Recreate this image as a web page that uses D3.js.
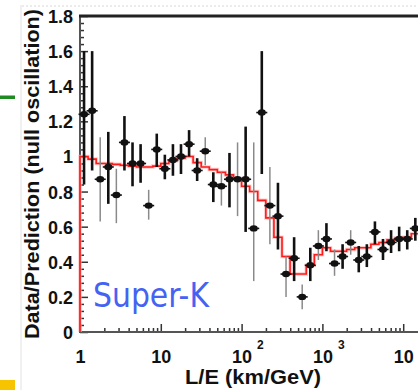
<!DOCTYPE html>
<html><head><meta charset="utf-8">
<script src="https://cdn.jsdelivr.net/npm/d3@7"></script>
<style>html,body{margin:0;padding:0;background:#fff;overflow:hidden}</style>
</head><body>
<svg id="c" width="418" height="390"></svg>
<script>
// ---- data ----
const lOverE = [1.122, 1.413, 1.778, 2.239, 2.818, 3.548, 4.467, 5.623, 7.079, 8.913,
  11.22, 14.13, 17.78, 22.39, 28.18, 35.48, 44.67, 56.23, 70.79, 89.13,
  112.2, 141.3, 177.8, 223.9, 281.8, 354.8, 446.7, 562.3, 707.9, 891.3,
  1122, 1413, 1778, 2239, 2818, 3548, 4467, 5623, 7079, 8913, 11220, 14130];
const ratio = [1.24, 1.26, 0.87, 0.94, 0.78, 1.08, 0.96, 0.96, 0.72, 1.04,
  0.93, 0.98, 1.00, 1.07, 0.92, 1.03, 0.84, 0.83, 0.87, 0.87,
  0.87, 0.59, 1.25, 0.72, 0.66, 0.33, 0.42, 0.20, 0.38, 0.49,
  0.53, 0.39, 0.43, 0.51, 0.41, 0.43, 0.57, 0.47, 0.51, 0.53, 0.53, 0.59];
const ratioHigh = [1.60, 1.60, 1.11, 1.14, 0.93, 1.23, 1.08, 1.07, 0.81, 1.13,
  1.01, 1.07, 1.07, 1.15, 0.99, 1.11, 0.91, 0.91, 1.02, 1.08,
  1.17, 1.08, 1.60, 0.94, 0.85, 0.43, 0.54, 0.27, 0.48, 0.58,
  0.62, 0.47, 0.50, 0.58, 0.49, 0.50, 0.63, 0.53, 0.58, 0.60, 0.58, 0.65];
const ratioLow = [0.84, 0.92, 0.63, 0.73, 0.62, 0.92, 0.83, 0.85, 0.64, 0.94,
  0.87, 0.89, 0.90, 1.00, 0.86, 0.95, 0.74, 0.72, 0.71, 0.66,
  0.57, 0.29, 0.90, 0.50, 0.47, 0.20, 0.29, 0.13, 0.29, 0.41,
  0.46, 0.32, 0.36, 0.44, 0.34, 0.37, 0.50, 0.41, 0.45, 0.46, 0.47, 0.52];
const prediction = [1.00, 0.985, 0.96, 0.96, 0.955, 0.95, 0.945, 0.94, 0.94, 0.945,
  0.96, 0.975, 0.99, 1.00, 0.965, 0.94, 0.925, 0.91, 0.895, 0.875,
  0.83, 0.80, 0.75, 0.65, 0.54, 0.43, 0.33, 0.33, 0.38, 0.44,
  0.48, 0.46, 0.46, 0.47, 0.48, 0.48, 0.50, 0.51, 0.525, 0.535, 0.54, 0.56];
const yTickValues = [0, 0.2, 0.4, 0.6, 0.8, 1, 1.2, 1.4, 1.6, 1.8];
const yTickLabels = ["0", "0.2", "0.4", "0.6", "0.8", "1", "1.2", "1.4", "1.6", "1.8"];
const xTickValues = [1, 10, 100, 1000, 10000];
const xTickBase = ["1", "10", "10", "10", "10"];
const xTickExp = ["", "", "2", "3", "4"];
const yTitle = "Data/Prediction (null oscillation)";
const xTitle = "L/E (km/GeV)";
const experiment = "Super-K";

// ---- drawing ----
const W = 418, H = 390;
const svg = d3.select("#c");
const x = d3.scaleLog().domain([1, 1e4]).range([80, 403.2]);
const y = d3.scaleLinear().domain([0, 1.8]).range([332, 16]);
const font = "'Liberation Sans', Arial, sans-serif";

// slide decorations
svg.append("line").attr("x1", 21).attr("x2", 21).attr("y1", 5).attr("y2", H)
  .attr("stroke", "#e2e2e2").attr("stroke-width", 1);
svg.append("line").attr("x1", 22).attr("x2", W).attr("y1", 6).attr("y2", 6)
  .attr("stroke", "#d8d8d8").attr("stroke-width", 1).attr("stroke-dasharray", "2,2");
svg.append("rect").attr("x", 0).attr("y", 95.5).attr("width", 15).attr("height", 3.5).attr("fill", "#1f8a22");
svg.append("rect").attr("x", 0).attr("y", 380).attr("width", 15).attr("height", 10).attr("fill", "#f6c400");

// minor ticks
const xMax = x.invert(W);
const minorX = [];
[1, 10, 100, 1000, 10000].forEach(d => { for (let k = 2; k <= 9; k++) if (d * k <= xMax) minorX.push(d * k); });
const minorY = d3.range(0, 1.8001, 0.04).filter(v => Math.abs(v / 0.2 - Math.round(v / 0.2)) > 1e-6);

const gxMinor = svg.append("g").attr("transform", "translate(0,332)")
  .call(d3.axisBottom(x).tickValues(minorX).tickSize(-4).tickFormat(""));
const gx = svg.append("g").attr("transform", "translate(0,332)")
  .call(d3.axisBottom(x).tickValues(xTickValues).tickSize(-8).tickPadding(18)
    .tickFormat((d, i) => xTickBase[i]));
const gyMinor = svg.append("g").attr("transform", "translate(80,0)")
  .call(d3.axisLeft(y).tickValues(minorY).tickSize(-4).tickFormat(""));
const gy = svg.append("g").attr("transform", "translate(80,0)")
  .call(d3.axisLeft(y).tickValues(yTickValues).tickSize(-8).tickPadding(7)
    .tickFormat((d, i) => yTickLabels[i]));
[gxMinor, gx, gyMinor, gy].forEach(g => {
  g.select(".domain").remove();
  g.selectAll(".tick line").attr("stroke", "#333").attr("stroke-width", 1.5);
  g.selectAll("text").attr("font-family", font).attr("font-weight", "bold")
    .attr("font-size", 18).attr("fill", "#111");
});
gy.selectAll(".tick text").attr("dy", "0.36em");
// exponents on decade labels
gx.selectAll(".tick").each(function (d, i) {
  if (xTickExp[i]) {
    d3.select(this).append("text").attr("x", 15).attr("y", 17)
      .attr("font-family", font).attr("font-weight", "bold").attr("font-size", 12)
      .attr("fill", "#111").attr("text-anchor", "start").text(xTickExp[i]);
  }
});

// frame lines
svg.append("line").attr("x1", 80).attr("x2", W).attr("y1", 332).attr("y2", 332)
  .attr("stroke", "#555").attr("stroke-width", 2);
svg.append("line").attr("x1", 80).attr("x2", 80).attr("y1", 15).attr("y2", 333)
  .attr("stroke", "#555").attr("stroke-width", 2);
svg.append("line").attr("x1", 79).attr("x2", W).attr("y1", 16).attr("y2", 16)
  .attr("stroke", "#222").attr("stroke-width", 3);

// titles
svg.append("text").attr("transform", "translate(39,174) rotate(-90)")
  .attr("text-anchor", "middle").attr("font-family", font).attr("font-weight", "bold")
  .attr("font-size", 21).attr("fill", "#111")
  .attr("textLength", 330).attr("lengthAdjust", "spacingAndGlyphs").text(yTitle);
svg.append("text").attr("x", 253).attr("y", 384)
  .attr("text-anchor", "middle").attr("font-family", font).attr("font-weight", "bold")
  .attr("font-size", 21).attr("fill", "#111")
  .attr("textLength", 136).attr("lengthAdjust", "spacingAndGlyphs").text(xTitle);

// prediction histogram
const edges = [];
for (let i = 1; i < lOverE.length; i++) edges[i] = Math.sqrt(lOverE[i - 1] * lOverE[i]);
edges[0] = lOverE[0] * lOverE[0] / edges[1];
edges[lOverE.length] = lOverE[lOverE.length - 1] * lOverE[lOverE.length - 1] / edges[lOverE.length - 1];
let p = `M${x(edges[0])},${y(0)}`;
prediction.forEach((v, i) => { p += `V${y(v)}H${x(edges[i + 1])}`; });
svg.append("path").attr("d", p).attr("fill", "none").attr("stroke", "#ffb3b3")
  .attr("stroke-width", 3.5).attr("stroke-opacity", 0.7);
svg.append("path").attr("d", p).attr("fill", "none").attr("stroke", "#ff1a1a")
  .attr("stroke-width", 1.6);

// data points
const thinBars = new Set([2, 4, 8, 15, 17, 19, 21, 23, 25, 27, 29, 31, 33]);
const pts = lOverE.map((e, i) => ({ e, r: ratio[i], hi: ratioHigh[i], lo: ratioLow[i], i }));
svg.append("g").selectAll("line").data(pts).join("line")
  .attr("x1", d => x(d.e)).attr("x2", d => x(d.e))
  .attr("y1", d => y(d.hi)).attr("y2", d => y(d.lo))
  .attr("stroke", d => thinBars.has(d.i) ? "#8a8a8a" : "#111")
  .attr("stroke-width", d => thinBars.has(d.i) ? 1.5 : 2.6);
const mk = svg.append("g").selectAll("g").data(pts).join("g")
  .attr("transform", d => `translate(${x(d.e)},${y(d.r)})`);
mk.append("line").attr("x1", -5.5).attr("x2", 5.5).attr("stroke", "#111").attr("stroke-width", 1.6);
mk.append("ellipse").attr("rx", 4).attr("ry", 3.2).attr("fill", "#111");

// experiment label
svg.append("text").attr("x", 93).attr("y", 307)
  .attr("font-family", "'DejaVu Sans', sans-serif").attr("font-size", 34)
  .attr("fill", "#4562f2").attr("textLength", 116).attr("lengthAdjust", "spacingAndGlyphs")
  .text(experiment);
</script>
</body></html>
